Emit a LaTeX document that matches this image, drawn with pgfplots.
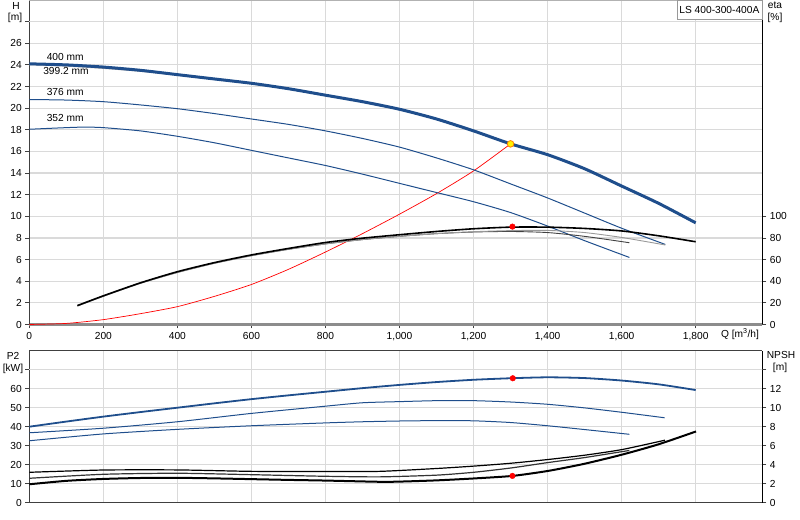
\documentclass[border=0pt]{standalone}
\usepackage{pgfplots}
\pgfplotsset{compat=1.18}
\usepackage{fontspec}
\setmainfont{Liberation Sans}

\definecolor{curveblue}{HTML}{1F4E8C}
\definecolor{gridgray}{HTML}{DADADA}

\pgfplotsset{
  pumpaxis/.style={
    scale only axis, width=733bp,
    xmin=0, xmax=1980,
    xtick={0,200,...,1800},
    tick align=outside, major tick length=4bp,
    tick style={draw=black!75, line width=0.8bp},
    ticklabel style={font=\fontsize{10.2bp}{12bp}\selectfont},
    /pgf/number format/assume math mode=true,
    /pgf/number format/1000 sep={,},
    every axis plot/.append style={smooth, tension=0.4},
  },
}

\begin{document}
\begin{tikzpicture}
\path[use as bounding box] (0,0) rectangle (800bp,520bp);

% ---------- upper chart: head ----------
\begin{axis}[pumpaxis,
    at={(29.3bp,195.5bp)}, anchor=south west, height=324.5bp,
    ymin=0, ymax=30,
    axis x line*=bottom, axis y line*=left,
    x axis line style={-, draw=gray!90, line width=2.5bp},
    y axis line style={-, draw=black!75, line width=1.2bp},
    ytick={0,2,...,26},
    extra y ticks={28}, extra y tick labels={},
    extra y tick style={grid=major},
    grid=major, major grid style={draw=gridgray, line width=1.2bp},
  ]
  % system curve
  \addplot[red, line width=0.7bp] coordinates {
    (0,0) (100,0.1) (200,0.45) (300,1.0) (400,1.65) (500,2.6) (600,3.7)
    (700,5.1) (800,6.7) (900,8.4) (1000,10.2) (1100,12.1) (1200,14.2) (1300,16.7)};
  % 352 mm
  \addplot[curveblue, line width=1bp] coordinates {
    (0,18.05) (100,18.2) (150,18.25) (200,18.2) (300,17.9) (400,17.4) (500,16.8)
    (600,16.1) (700,15.4) (800,14.7) (900,13.9) (1000,13.05) (1100,12.2)
    (1200,11.35) (1300,10.35) (1400,9.1) (1500,7.75) (1621,6.2)};
  % 376 mm
  \addplot[curveblue, line width=1bp] coordinates {
    (0,20.8) (100,20.75) (200,20.6) (300,20.3) (400,19.95) (500,19.5) (600,19.0)
    (700,18.5) (800,17.9) (900,17.2) (1000,16.4) (1100,15.4) (1200,14.3)
    (1300,13.0) (1400,11.7) (1500,10.3) (1600,8.9) (1718,7.4)};
  % 399.2 mm
  \addplot[gray!70, line width=0.8bp] coordinates {
    (0,24.0) (100,23.88) (200,23.67) (300,23.4) (400,23.05) (500,22.65) (600,22.25)
    (700,21.75) (800,21.15) (900,20.55) (1000,19.85) (1100,18.95) (1200,17.85)
    (1300,16.65) (1400,15.65) (1500,14.35) (1600,12.75) (1700,11.15) (1800,9.35)};
  % 400 mm
  \addplot[curveblue, line width=3bp] coordinates {
    (0,24.1) (100,24.0) (200,23.8) (300,23.5) (400,23.1) (500,22.7) (600,22.3)
    (700,21.8) (800,21.2) (900,20.6) (1000,19.9) (1100,19.0) (1200,17.9)
    (1300,16.7) (1400,15.7) (1500,14.4) (1600,12.8) (1700,11.2) (1800,9.4)};
  % duty point
  \addplot[only marks, mark=*, mark size=3.3bp,
    mark options={fill=yellow, draw=orange, line width=0.8bp}] coordinates {(1300,16.7)};

  \node[font=\fontsize{10.2bp}{12bp}\selectfont] at (axis cs:97,24.7) {400 mm};
  \node[font=\fontsize{10.2bp}{12bp}\selectfont] at (axis cs:99,23.4) {399.2 mm};
  \node[font=\fontsize{10.2bp}{12bp}\selectfont] at (axis cs:97,21.5) {376 mm};
  \node[font=\fontsize{10.2bp}{12bp}\selectfont] at (axis cs:97,19.1) {352 mm};
\end{axis}

% ---------- upper chart: efficiency ----------
\begin{axis}[pumpaxis,
    at={(29.3bp,195.5bp)}, anchor=south west, height=324.5bp,
    ymin=0, ymax=300,
    axis x line=none, axis y line*=right,
    y axis line style={-, draw=black, line width=1.5bp},
    ytick={0,20,...,100},
  ]
  \addplot[black!75, line width=0.9bp] coordinates {
    (130,17.3) (200,26.3) (300,38.2) (400,48.2) (500,56.7) (600,63.7) (700,69.5)
    (800,74.5) (900,78.5) (1000,81.5) (1100,84) (1200,85.5) (1300,86)
    (1400,85) (1500,81.5) (1621,75.6)};
  \addplot[gray!80, line width=0.9bp] coordinates {
    (130,17) (200,26) (300,38) (400,48) (500,56.5) (600,63.5) (700,69.5)
    (800,74.5) (900,78.5) (1000,81.5) (1100,84) (1200,85.8) (1300,86.8)
    (1400,87) (1500,85) (1600,80.5) (1718,73.5)};
  \addplot[black, line width=1.6bp] coordinates {
    (130,17.5) (200,26.5) (300,38.5) (400,48.8) (500,57.2) (600,64.3) (700,70.3)
    (800,75.8) (900,79.8) (1000,83) (1100,86) (1200,88.5) (1300,90)
    (1400,90) (1500,88.8) (1600,86.5) (1700,82) (1800,76.5)};
  \addplot[only marks, mark=*, mark size=2.8bp, mark options={fill=red, draw=red}]
    coordinates {(1305,90.5)};
\end{axis}

% ---------- lower chart: power ----------
\begin{axis}[pumpaxis,
    at={(29.3bp,17.3bp)}, anchor=south west, height=152bp,
    ymin=0, ymax=80,
    axis x line*=bottom, axis y line*=left,
    x axis line style={-, draw=black!75, line width=1.5bp},
    y axis line style={-, draw=black!75, line width=1.2bp},
    xticklabels={}, xtick style={draw=none},
    ytick={0,10,...,60},
    extra y ticks={70}, extra y tick labels={},
    extra y tick style={grid=major},
    grid=major, major grid style={draw=gridgray, line width=1.2bp},
  ]
  \addplot[curveblue, line width=1bp] coordinates {
    (0,32.6) (200,36.2) (400,38.6) (600,40.5) (800,42.0) (900,42.6) (1000,43.0)
    (1100,43.2) (1200,43.1) (1300,42.2) (1400,40.5) (1500,38.5) (1621,36.0)};
  \addplot[curveblue, line width=1bp] coordinates {
    (0,36.8) (200,39.2) (400,42.6) (600,47.0) (800,50.8) (900,52.6) (1000,53.2)
    (1100,53.7) (1200,53.7) (1300,53.0) (1400,51.8) (1500,49.9) (1600,47.6) (1716,44.7)};
  \addplot[curveblue, line width=1.8bp] coordinates {
    (0,40.0) (100,42.7) (200,45.3) (300,47.7) (400,50.0) (500,52.3) (600,54.5)
    (700,56.5) (800,58.4) (900,60.3) (1000,62.0) (1100,63.5) (1200,64.7)
    (1300,65.5) (1400,66.0) (1500,65.6) (1600,64.3) (1700,62.3) (1800,59.3)};
  \addplot[only marks, mark=*, mark size=2.8bp, mark options={fill=red, draw=red}]
    coordinates {(1306,65.5)};
\end{axis}

% ---------- lower chart: NPSH ----------
\begin{axis}[pumpaxis,
    at={(29.3bp,17.3bp)}, anchor=south west, height=152bp,
    ymin=0, ymax=16,
    axis x line=none, axis y line*=right,
    y axis line style={-, draw=black, line width=1.5bp},
    ytick={0,2,...,12},
    extra y ticks={14}, extra y tick labels={},
  ]
  \addplot[black, line width=1.2bp] coordinates {
    (0,3.2) (200,3.44) (400,3.45) (600,3.3) (800,3.28) (947,3.3) (1100,3.6)
    (1200,3.85) (1300,4.15) (1402,4.55) (1500,5.0) (1602,5.6) (1717,6.58)};
  \addplot[black!80, line width=1.2bp] coordinates {
    (0,2.57) (200,2.99) (400,3.1) (600,2.95) (800,2.78) (947,2.72) (1100,2.9)
    (1200,3.2) (1300,3.65) (1402,4.23) (1500,4.75) (1621,5.5)};
  \addplot[black, line width=2bp] coordinates {
    (0,1.94) (100,2.3) (200,2.5) (300,2.6) (400,2.62) (500,2.56) (600,2.48)
    (700,2.4) (800,2.33) (947,2.2) (1000,2.22) (1100,2.35) (1200,2.55)
    (1305,2.82) (1402,3.35) (1500,4.1) (1602,5.07) (1700,6.15) (1801,7.5)};
  \addplot[only marks, mark=*, mark size=2.8bp, mark options={fill=red, draw=red}]
    coordinates {(1305,2.82)};
\end{axis}

% frame lines and titles
\draw[gray!60, line width=1bp] (29.3bp,519.6bp) -- (762.3bp,519.6bp);
\draw[black!75, line width=1.5bp] (29.3bp,169.3bp) -- (762.3bp,169.3bp);

\begin{scope}[font=\fontsize{10.2bp}{12bp}\selectfont]
  \node[draw=gray!80, fill=white, anchor=north east, inner xsep=2.5bp,
    minimum height=19bp, line width=0.8bp] at (762.3bp,520bp) {LS 400-300-400A};
  \node at (16bp,514.5bp) {H};
  \node at (15bp,502.5bp) {[m]};
  \node at (775bp,514.5bp) {eta};
  \node at (775bp,502.5bp) {[\%]};
  \node at (740bp,186bp) {Q [m\textsuperscript{3}/h]};
  \node at (13bp,164bp) {P2};
  \node at (13bp,151.5bp) {[kW]};
  \node at (781bp,165bp) {NPSH};
  \node at (780bp,152.5bp) {[m]};
\end{scope}
\end{tikzpicture}
\end{document}
